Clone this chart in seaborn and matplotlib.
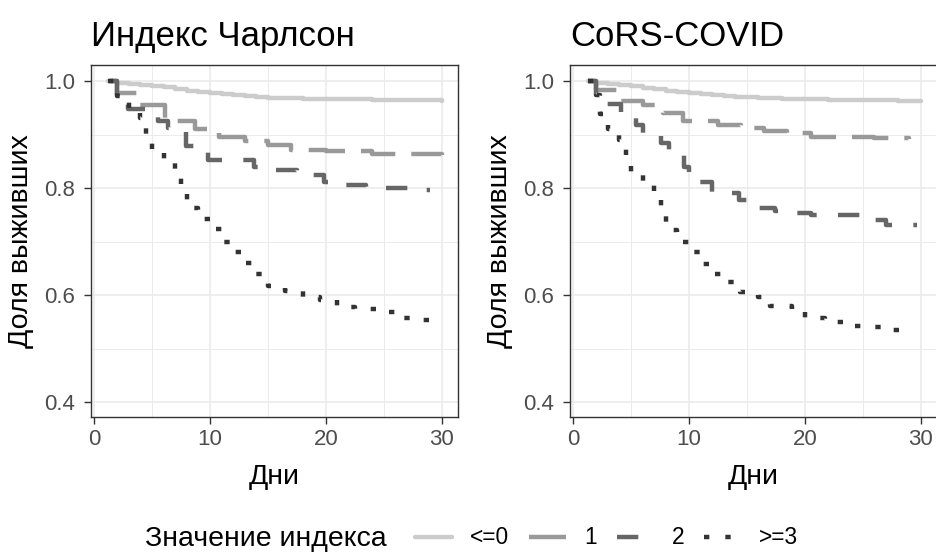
import numpy as np
import pandas as pd
import matplotlib
matplotlib.use("Agg")
import matplotlib.pyplot as plt
from matplotlib.lines import Line2D
import seaborn as sns

# Kaplan-Meier step curves (day, survival share).
groups = ["<=0", "1", "2", ">=3"]

# Индекс Чарлсон
ch_t0 = [1.2, 2, 3, 4, 5, 6, 7, 8, 9, 10, 11, 12, 13, 14, 15, 16, 18, 20, 22, 24, 26, 28, 30]
ch_s0 = [1.0, 0.997, 0.995, 0.992, 0.99, 0.988, 0.985, 0.982, 0.98, 0.978, 0.976, 0.974,
         0.972, 0.97, 0.969, 0.968, 0.967, 0.966, 0.966, 0.965, 0.965, 0.964, 0.963]
ch_t1 = [1.5, 2.0, 3.9, 6.1, 8.7, 10.8, 13.0, 15.0, 17.0, 20.0, 24.0, 30.0]
ch_s1 = [1.0, 0.978, 0.956, 0.925, 0.91, 0.896, 0.887, 0.88, 0.872, 0.869, 0.863, 0.862]
ch_t2 = [1.3, 2.0, 2.9, 5.5, 6.4, 7.9, 9.8, 13.8, 14.8, 17.5, 19.8, 21.0, 23.5, 27.5, 29.0]
ch_s2 = [1.0, 0.975, 0.948, 0.925, 0.912, 0.878, 0.853, 0.84, 0.834, 0.824, 0.812, 0.806,
         0.8, 0.796, 0.796]
ch_t3 = [1.2, 2.0, 3.0, 4.0, 4.5, 5.0, 6.0, 7.0, 7.5, 8.0, 9.0, 10.0, 11.0, 12.0, 13.0,
         14.0, 15.0, 16.5, 18.0, 19.5, 21.0, 22.5, 24.5, 26.0, 28.0, 30.0]
ch_s3 = [1.0, 0.972, 0.95, 0.93, 0.89, 0.87, 0.85, 0.828, 0.795, 0.762, 0.743, 0.723, 0.70,
         0.68, 0.66, 0.64, 0.616, 0.607, 0.597, 0.59, 0.578, 0.573, 0.569, 0.557, 0.554, 0.554]

# CoRS-COVID
cv_t0 = [1.3, 2, 3, 4, 5, 6, 7, 8, 9, 10, 11, 12, 13, 14, 15, 16, 18, 20, 22, 24, 26, 28, 30]
cv_s0 = [1.0, 0.997, 0.995, 0.992, 0.99, 0.987, 0.985, 0.982, 0.98, 0.977, 0.975, 0.973,
         0.972, 0.971, 0.97, 0.969, 0.967, 0.966, 0.965, 0.965, 0.964, 0.963, 0.963]
cv_t1 = [1.3, 2.0, 3.8, 6.0, 7.8, 9.5, 12.5, 14.5, 16.5, 18.5, 20.5, 26.0, 29.0]
cv_s1 = [1.0, 0.983, 0.962, 0.955, 0.94, 0.925, 0.918, 0.912, 0.907, 0.902, 0.896, 0.893, 0.892]
cv_t2 = [1.3, 2.0, 2.9, 4.1, 5.4, 6.0, 7.6, 8.3, 9.6, 10.0, 12.0, 14.3, 15.0, 17.4, 18.5,
         20.5, 25.0, 27.0, 29.7]
cv_s2 = [1.0, 0.975, 0.958, 0.937, 0.918, 0.897, 0.885, 0.865, 0.84, 0.812, 0.79, 0.778,
         0.762, 0.758, 0.753, 0.75, 0.74, 0.731, 0.731]
cv_t3 = [1.3, 2.0, 2.3, 3.0, 4.0, 4.6, 5.0, 6.0, 7.0, 7.6, 8.0, 9.0, 10.0, 11.0, 12.0, 13.3,
         14.4, 16.0, 17.0, 18.9, 20.0, 21.7, 23.3, 25.0, 26.9, 28.7]
cv_s3 = [1.0, 0.974, 0.938, 0.91, 0.89, 0.86, 0.828, 0.806, 0.785, 0.754, 0.722, 0.70, 0.68,
         0.658, 0.64, 0.624, 0.605, 0.596, 0.58, 0.573, 0.557, 0.55, 0.543, 0.54, 0.535, 0.53]

titles = ["Индекс Чарлсон", "CoRS-COVID"]
x_ticks = [0, 10, 20, 30]
y_ticks = [0.4, 0.6, 0.8, 1.0]


def long_df(times, survs):
    frames = []
    for g, t, s in zip(groups, times, survs):
        frames.append(pd.DataFrame({"day": t, "surv": s, "grp": g}))
    return pd.concat(frames, ignore_index=True)


panels = [
    long_df([ch_t0, ch_t1, ch_t2, ch_t3], [ch_s0, ch_s1, ch_s2, ch_s3]),
    long_df([cv_t0, cv_t1, cv_t2, cv_t3], [cv_s0, cv_s1, cv_s2, cv_s3]),
]

sns.set_theme(style="white")
plt.rcParams["font.family"] = ["Liberation Sans", "DejaVu Sans"]
plt.rcParams["text.color"] = "black"
plt.rcParams["axes.labelcolor"] = "black"

palette = {"<=0": "#CCCCCC", "1": "#999999", "2": "#666666", ">=3": "#333333"}
dashes = {"<=0": "", "1": (8.4, 3.6), "2": (4.8, 4.8), ">=3": (1.2, 3.6)}
lw = 3.2

fig = plt.figure(figsize=(9.36, 5.52), dpi=100)
W, H = 936, 552
lefts = [91, 570]
for i, df in enumerate(panels):
    ax = fig.add_axes([lefts[i] / W, 1 - 417 / H, 367 / W, 352 / H])
    sns.lineplot(data=df, x="day", y="surv", hue="grp", style="grp", palette=palette,
                 dashes=dashes, drawstyle="steps-post", linewidth=lw, estimator=None,
                 legend=False, ax=ax)
    ax.set_xlim(-0.26, 31.4)
    ax.set_ylim(0.372, 1.03)
    ax.set_xticks(x_ticks)
    ax.set_yticks(y_ticks)
    ax.set_yticklabels([f"{v:.1f}" for v in y_ticks])
    ax.set_xticks([5, 15, 25], minor=True)
    ax.set_yticks([0.5, 0.7, 0.9], minor=True)
    ax.grid(True, which="major", color="#EBEBEB", linewidth=1.2)
    ax.grid(True, which="minor", color="#EBEBEB", linewidth=0.7)
    ax.set_axisbelow(True)
    for sp in ax.spines.values():
        sp.set_color("#333333")
        sp.set_linewidth(1.0)
    ax.tick_params(which="major", length=5, width=1.0, color="#333333",
                   labelcolor="#4D4D4D", labelsize=16, bottom=True, left=True)
    ax.tick_params(axis="y", pad=6.5)
    ax.tick_params(axis="x", pad=3.5)
    ax.tick_params(which="minor", length=0)
    ax.set_xlabel("Дни", fontsize=20.5, labelpad=10, color="black")
    ax.set_ylabel("Доля выживших", fontsize=20.5, labelpad=7, color="black")
    ax.set_title(titles[i], fontsize=25, loc="left", pad=14, color="black")

fig.text(145 / W, 1 - 546 / H, "Значение индекса", fontsize=20.5, va="baseline",
         ha="left", color="black")
handles = [Line2D([], [], color=palette[g], linewidth=lw,
                  dashes=dashes[g] if dashes[g] else (None, None)) for g in groups]
handles[0] = Line2D([], [], color=palette["<=0"], linewidth=lw)
leg = fig.legend(handles, groups, ncol=4, frameon=False, fontsize=16.4,
                 loc="center left", bbox_to_anchor=(415 / W, 1 - 538 / H),
                 borderaxespad=0, borderpad=0, handlelength=1.62, handletextpad=0.79,
                 columnspacing=0.88)
for t in leg.get_texts():
    t.set_color("black")

fig.savefig("out.png", dpi=100)
